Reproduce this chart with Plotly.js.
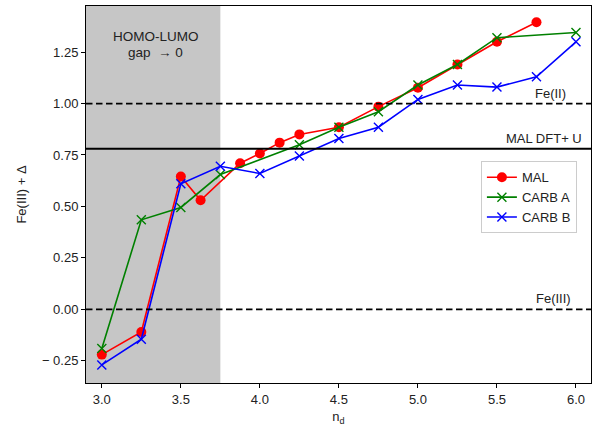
<!DOCTYPE html>
<html>
<head>
<meta charset="utf-8">
<script src="https://cdn.plot.ly/plotly-3.0.1.min.js"></script>
<style>html,body{margin:0;padding:0;background:#fff;}#chart{width:594px;height:428px;}</style>
</head>
<body>
<div id="chart"></div>
<script>
// Data
const malX = [3.0, 3.25, 3.5, 3.625, 3.875, 4.0, 4.125, 4.25, 4.5, 4.75, 5.0, 5.25, 5.5, 5.75];
const malY = [-0.22, -0.11, 0.645, 0.53, 0.71, 0.757, 0.81, 0.85, 0.885, 0.985, 1.077, 1.19, 1.30, 1.395];
const carbAX = [3.0, 3.25, 3.5, 3.75, 4.25, 4.5, 4.75, 5.0, 5.25, 5.5, 6.0];
const carbAY = [-0.19, 0.435, 0.495, 0.655, 0.80, 0.885, 0.96, 1.09, 1.19, 1.32, 1.345];
const carbBX = [3.0, 3.25, 3.5, 3.75, 4.0, 4.25, 4.5, 4.75, 5.0, 5.25, 5.5, 5.75, 6.0];
const carbBY = [-0.27, -0.145, 0.61, 0.695, 0.66, 0.745, 0.83, 0.885, 1.02, 1.09, 1.08, 1.13, 1.30];
const yTickVals = [-0.25, 0.0, 0.25, 0.5, 0.75, 1.0, 1.25];
const yTickText = ["\u2212 0.25", "0.00", "0.25", "0.50", "0.75", "1.00", "1.25"];
const xTickVals = [3.0, 3.5, 4.0, 4.5, 5.0, 5.5, 6.0];
const xTickText = ["3.0", "3.5", "4.0", "4.5", "5.0", "5.5", "6.0"];
const feII = 1.0, feIII = 0.0, malDFTU = 0.78, gapEdge = 3.75;

const FONT = "Liberation Sans, Arial, sans-serif";
const traces = [
  {x: malX, y: malY, name: "MAL", mode: "lines+markers",
   line: {color: "#ff0000", width: 1.6}, marker: {symbol: "circle", size: 10, color: "#ff0000"}},
  {x: carbAX, y: carbAY, name: "CARB A", mode: "lines+markers",
   line: {color: "#008000", width: 1.6}, marker: {symbol: "x-thin-open", size: 9, line: {color: "#008000", width: 1.4}, color: "#008000"}},
  {x: carbBX, y: carbBY, name: "CARB B", mode: "lines+markers",
   line: {color: "#0000ff", width: 1.6}, marker: {symbol: "x-thin-open", size: 9, line: {color: "#0000ff", width: 1.4}, color: "#0000ff"}}
];

const layout = {
  width: 594, height: 428,
  margin: {l: 86, r: 3, t: 6, b: 45},
  paper_bgcolor: "#fff", plot_bgcolor: "#fff",
  font: {family: FONT, size: 13, color: "#222"},
  showlegend: true,
  legend: {x: 0.782, y: 0.588, xanchor: "left", yanchor: "top",
           bgcolor: "rgba(255,255,255,0.9)", bordercolor: "#cccccc", borderwidth: 1,
           font: {family: FONT, size: 13, color: "#222"}, tracegroupgap: 0},
  xaxis: {range: [2.9, 6.095], tickvals: xTickVals, ticktext: xTickText,
          showgrid: false, zeroline: false, showline: true, mirror: true,
          linecolor: "#000", linewidth: 1, ticks: "outside", ticklen: 4, tickcolor: "#000",
          title: {text: "n<sub>d</sub>", font: {family: FONT, size: 13}, standoff: 6}},
  yaxis: {range: [-0.358, 1.474], tickvals: yTickVals, ticktext: yTickText,
          showgrid: false, zeroline: false, showline: true, mirror: true,
          linecolor: "#000", linewidth: 1, ticks: "outside", ticklen: 4, tickcolor: "#000",
          title: {text: "Fe(III) + \u0394", font: {family: FONT, size: 13}, standoff: 12}},
  shapes: [
    {type: "rect", xref: "x", yref: "paper", x0: 2.9, x1: gapEdge, y0: 0, y1: 1,
     fillcolor: "#c6c6c6", line: {width: 0}, layer: "below"},
    {type: "line", xref: "paper", yref: "y", x0: 0, x1: 1, y0: feII, y1: feII,
     line: {color: "#000", width: 1.8, dash: "6.5px,3.5px"}},
    {type: "line", xref: "paper", yref: "y", x0: 0, x1: 1, y0: feIII, y1: feIII,
     line: {color: "#000", width: 1.8, dash: "6.5px,3.5px"}},
    {type: "line", xref: "paper", yref: "y", x0: 0, x1: 1, y0: malDFTU, y1: malDFTU,
     line: {color: "#000", width: 2}}
  ],
  annotations: [
    {x: 3.34, y: 1.325, xref: "x", yref: "y", text: "HOMO-LUMO", showarrow: false, borderpad: 0,
     font: {family: FONT, size: 13.5, color: "#222"}, align: "center"},
    {x: 3.34, y: 1.250, xref: "x", yref: "y", text: "gap  \u2192 0", showarrow: false, borderpad: 0,
     font: {family: FONT, size: 13.5, color: "#222"}, align: "center"},
    {x: 5.95, y: 1.0, xref: "x", yref: "y", text: "Fe(II)", showarrow: false,
     xanchor: "right", yanchor: "bottom", yshift: 1, font: {family: FONT, size: 13, color: "#222"}},
    {x: 6.05, y: 0.78, xref: "x", yref: "y", text: "MAL DFT+ U", showarrow: false,
     xanchor: "right", yanchor: "bottom", yshift: 1, font: {family: FONT, size: 13, color: "#222"}},
    {x: 5.98, y: 0.0, xref: "x", yref: "y", text: "Fe(III)", showarrow: false,
     xanchor: "right", yanchor: "bottom", yshift: 1, font: {family: FONT, size: 13, color: "#222"}}
  ]
};

Plotly.newPlot("chart", traces, layout, {displayModeBar: false, staticPlot: true});
</script>
</body>
</html>
